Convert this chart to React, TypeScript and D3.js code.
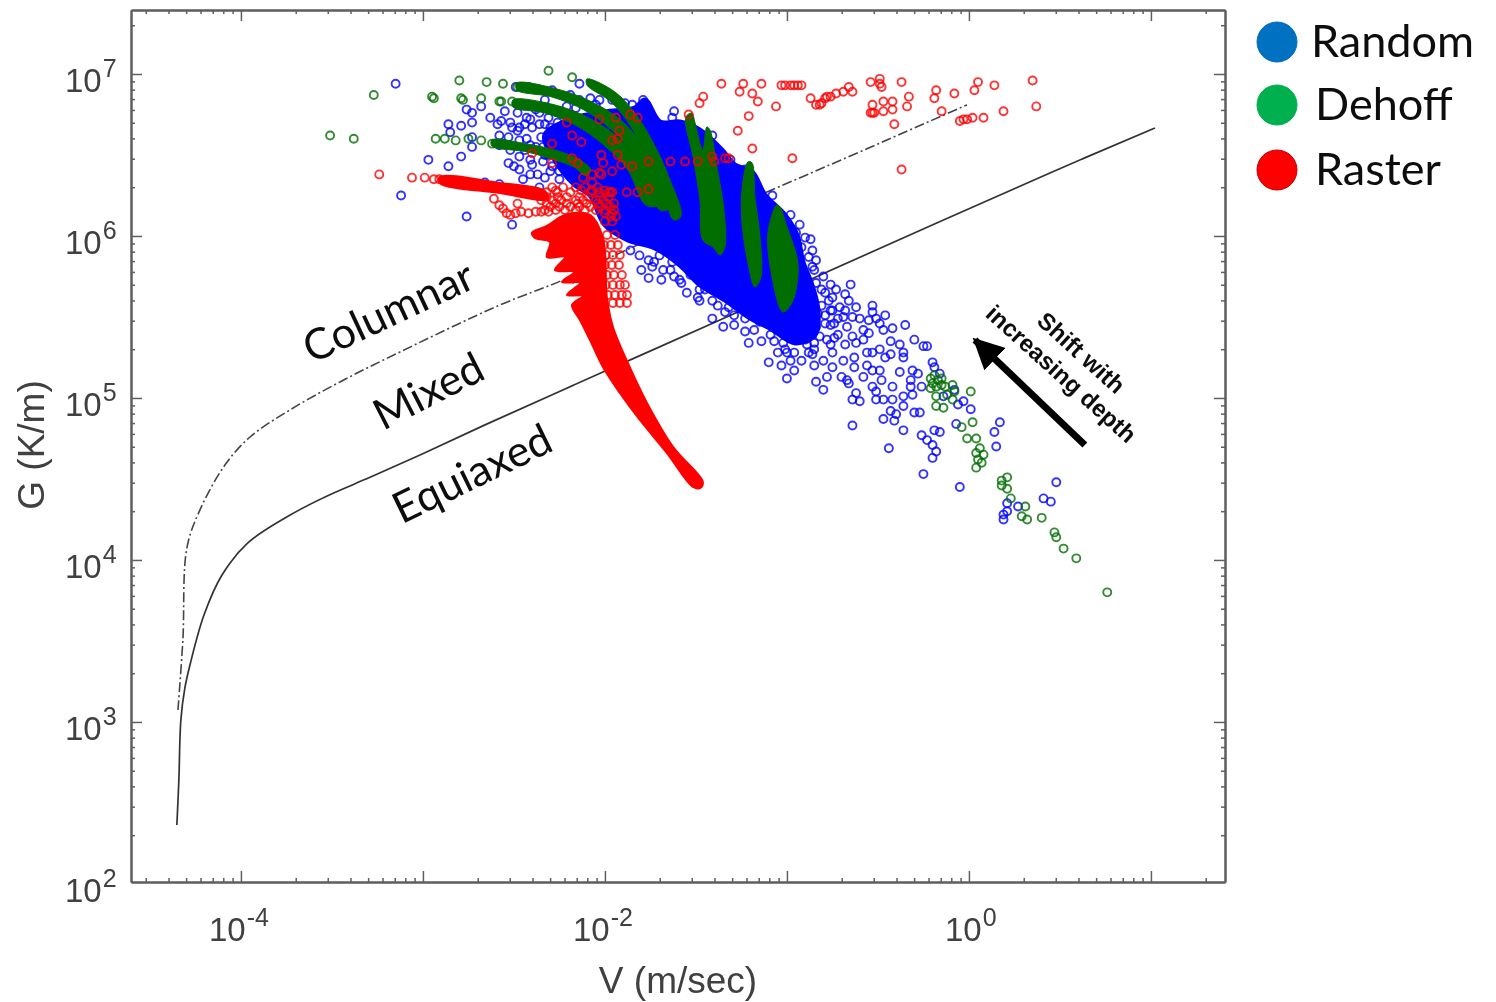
import * as d3 from "d3";
import { useEffect, useRef } from "react";

type Pt = number[];

// every point is [log10 V, log10 G]
const equiaxedLine: Pt[] = [[-4.352,2.364],[-4.341,2.642],[-4.33,3.012],[-4.308,3.21],[-4.28,3.352],[-4.203,3.66],[-4.104,3.907],[-3.962,4.105],[-3.758,4.259],[-3.538,4.389],[-3.291,4.51],[-3.016,4.648],[-2.659,4.834],[-2.011,5.16],[-1.368,5.481],[-0.78,5.778],[0.445,6.389],[1.022,6.667]];
const columnarLine: Pt[] = [[-4.346,3.074],[-4.319,3.506],[-4.297,4.074],[-4.225,4.309],[-4.088,4.586],[-3.95,4.759],[-3.731,4.926],[-3.456,5.099],[-3.126,5.284],[-2.577,5.574],[-2.231,5.728],[-1.846,5.932],[-1.11,6.272],[-0.011,6.809]];

// solid regions, where the markers overlap completely
const randomCore: Pt[] = [[-2.33,6.623],[-2.165,6.728],[-2,6.765],[-1.835,6.79],[-1.78,6.84],[-1.698,6.704],[-1.588,6.704],[-1.478,6.654],[-1.357,6.531],[-1.286,6.438],[-1.192,6.395],[-1.121,6.253],[-1.011,6.13],[-0.945,6.006],[-0.912,5.84],[-0.863,5.698],[-0.83,5.543],[-0.846,5.389],[-0.956,5.34],[-1.093,5.432],[-1.203,5.494],[-1.341,5.605],[-1.478,5.698],[-1.588,5.821],[-1.725,5.926],[-1.874,5.975],[-2,6.068],[-2.082,6.253],[-2.165,6.315],[-2.275,6.469]];
const dehoffBands: Pt[][] = [
  [[-2.099,6.969],[-1.945,6.889],[-1.824,6.741],[-1.72,6.543],[-1.654,6.377],[-1.582,6.123],[-1.621,6.099],[-1.698,6.346],[-1.78,6.519],[-1.874,6.704],[-1.973,6.833],[-2.099,6.932]],
  [[-2.484,6.944],[-2.286,6.914],[-2.082,6.833],[-1.907,6.71],[-1.775,6.531],[-1.687,6.358],[-1.643,6.173],[-1.698,6.16],[-1.753,6.309],[-1.841,6.494],[-1.962,6.654],[-2.115,6.778],[-2.291,6.858],[-2.484,6.901]],
  [[-2.505,6.84],[-2.319,6.821],[-2.121,6.747],[-1.945,6.623],[-1.808,6.444],[-1.72,6.253],[-1.698,6.191],[-1.775,6.191],[-1.874,6.407],[-2,6.556],[-2.154,6.679],[-2.33,6.759],[-2.505,6.796]],
  [[-2.621,6.593],[-2.429,6.568],[-2.258,6.525],[-2.137,6.469],[-2.077,6.407],[-2.104,6.37],[-2.17,6.426],[-2.275,6.469],[-2.429,6.519],[-2.621,6.556]],
  [[-1.555,6.735],[-1.516,6.488],[-1.478,6.222],[-1.462,5.975],[-1.407,5.932],[-1.368,5.883],[-1.341,5.932],[-1.346,6.16],[-1.385,6.426],[-1.423,6.654],[-1.44,6.673],[-1.462,6.531],[-1.505,6.698],[-1.522,6.759]],
  [[-1.214,6.457],[-1.247,6.284],[-1.247,6.08],[-1.214,5.833],[-1.176,5.685],[-1.143,5.747],[-1.148,5.994],[-1.176,6.241],[-1.192,6.451]],
  [[-1.055,6.191],[-1.104,6.019],[-1.082,5.747],[-1.022,5.531],[-0.973,5.586],[-0.94,5.747],[-0.945,5.87],[-1,6.056],[-1.038,6.179]],
];
const rasterBands: Pt[][] = [
  [[-2.401,6.019],[-2.319,6.062],[-2.22,6.13],[-2.082,6.13],[-2.011,5.988],[-1.989,5.617],[-1.956,5.438],[-1.874,5.216],[-1.769,4.969],[-1.626,4.698],[-1.462,4.481],[-1.478,4.444],[-1.516,4.451],[-1.659,4.66],[-1.808,4.864],[-1.918,5.031],[-2.011,5.191],[-2.082,5.358],[-2.137,5.481],[-2.181,5.574],[-2.121,5.63],[-2.209,5.636],[-2.137,5.71],[-2.236,5.716],[-2.17,5.778],[-2.275,5.79],[-2.22,5.87],[-2.319,5.87],[-2.302,5.963],[-2.385,5.988]],
  [[-2.907,6.364],[-2.577,6.327],[-2.33,6.278],[-2.313,6.228],[-2.577,6.265],[-2.907,6.327]],
];

const randomPoints: Pt[] = [
  [-0.35,5.45],[-0.3,5.36],[-0.25,5.32],[-0.23,5.32],[-0.2,5.22],[-0.19,5.19],[-0.16,5.15],[-0.31,5.17],[-0.38,5.16],[-0.28,5.15],[-0.32,5.11],[-0.26,5.07],[-0.32,5.07],[-0.31,5.02],[-0.36,5.01],[-0.42,5.07],[-0.48,5.11],[-0.53,5.17],[-0.58,5.13],[-0.53,5.07],[-0.51,5.04],[-0.42,4.99],[-0.47,4.99],[-0.51,4.99],[-0.6,4.98],[-0.64,4.99],[-0.62,5.03],[-0.66,5.09],[-0.7,5.13],[-0.36,4.95],[-0.43,4.92],[-0.4,4.9],[-0.47,4.87],[-0.41,4.86],[-0.3,4.91],[-0.27,4.91],[-0.64,4.83],[-0.36,4.8],[-0.44,4.69],[-0.26,4.77],[-0.23,4.74],[-0.2,4.71],[-0.18,4.67],[-0.2,4.63],[-0.25,4.53],[-0.19,4.8],[-0.16,4.79],[-0.07,4.84],[-0.06,4.96],[-0.03,4.98],[0.01,4.93],[-0.14,5.01],[-0.08,5.05],[0.17,4.85],[0.14,4.79],[0.15,4.7],[-0.05,4.45],[0.48,4.48],[0.41,4.38],[0.45,4.36],[0.27,4.33],[0.21,4.35],[0.21,4.3],[0.19,4.28],[0.19,4.25],
  [-0.53,5.57],[-0.53,5.53],[-0.51,5.49],[-0.49,5.46],[-0.47,5.42],[-0.42,5.43],[-0.55,5.4],[-0.58,5.42],[-0.64,5.5],[-0.6,5.49],[-0.68,5.64],[-0.66,5.6],[-0.62,5.56],[-0.76,5.7],[-0.75,5.62],[-0.71,5.56],[-0.69,5.5],[-0.74,5.46],[-0.79,5.46],[-0.84,5.44],[-0.67,5.44],[-0.64,5.38],[-0.62,5.34],[-0.58,5.36],[-0.56,5.28],[-0.53,5.28],[-0.49,5.3],[-0.43,5.27],[-0.46,5.25],[-0.43,5.35],[-0.38,5.33],[-0.36,5.28],[-0.36,5.25],[-0.69,5.23],[-0.63,5.25],[-0.75,5.28],[-0.8,5.23],[-0.86,5.27],[-0.92,5.23],[-0.98,5.23],[-1,5.28],[-1.1,5.22],[-1.03,5.2],[-0.96,5.17],[-1,5.12],[-0.84,5.1],[-0.8,5.05],[-0.78,5.13],[-0.75,5.19],[-0.67,5.11],[-0.56,5.2],[-0.49,5.17],[-0.63,5.19],[-1.21,5.34],[-1.14,5.35],[-1.07,5.35],[-1.23,5.41],[-1.35,5.44],[-1.29,5.45],[-1.41,5.49],[-1.02,5.34],[-0.95,5.38],[-0.89,5.33],[-0.85,5.34],[-0.82,5.38],[-0.86,5.6],[-0.79,5.65],[-0.83,5.52],
  [-0.76,5.54],[-0.72,5.39],[-0.78,5.36],[-0.88,5.28],[-0.96,5.28],[-1.05,5.28],[-0.85,5.2],[-0.68,5.33],[-0.55,5.48],[-0.46,5.51],[-0.77,5.6],[-0.73,5.67],[-0.65,5.7],
  [-1.16,6.3],[-1.3,6.36],[-0.95,6.02],[-0.92,5.93],[-0.86,5.91],[-0.88,5.87],[-0.84,5.85],[-0.86,5.81],[-0.93,5.81],[-0.8,5.75],[-0.84,5.71],[-1.8,5.79],[-1.76,5.74],[-1.69,5.73],[-1.74,5.81],[-1.68,5.79],[-1.76,5.85],[-1.55,5.65],[-1.48,5.6],[-1.38,5.57],[-1.49,5.62],[-1.58,5.71],[-1.62,5.75],[-1.32,5.56],[-1.24,5.57],[-1.7,5.88],[-1.64,5.79],[-1.81,5.88],[-1.86,5.91],
  [-3.15,6.94],[-2.14,6.94],[-2.76,6.78],[-2.73,6.76],[-2.68,6.8],[-2.86,6.69],[-2.79,6.68],[-2.73,6.7],[-2.85,6.64],[-2.59,6.69],[-2.57,6.71],[-2.52,6.7],[-2.53,6.61],[-2.73,6.61],[-2.73,6.55],[-2.97,6.47],[-2.79,6.49],[-2.86,6.43],[-3.12,6.25],[-2.76,6.12],[-2.51,6.07],[-2.53,6.45],[-2.5,6.43],[-2.45,6.35],[-2.58,6.32],[-2.66,6.33],[-2.47,6.49],[-2.36,6.3],[-2.34,6.46],[-2.3,6.4],[-2.41,6.47],[-2.4,6.44],[-2.47,6.67],[-2.43,6.6],[-2.4,6.67],[-2.35,6.61],[-2.3,6.67],[-2.26,6.64],[-2.48,6.76],[-2.43,6.73],[-2.36,6.76],[-2.29,6.9],[-2.49,6.92],[-2.42,6.92],[-2.21,6.8],[-2.23,6.64],[-2.21,6.49],[-2.29,6.43],[-2.25,6.35],[-2.18,6.36],[-2.34,6.55],[-2.47,6.59],
  [-2.41,6.72],[-2.38,6.55],[-2.31,6.5],[-2.27,6.56],[-2.44,6.53],[-2.37,6.38],[-2.22,6.41],[-2.14,6.84],[-2.05,6.81],[-1.96,6.84],[-1.89,6.82],[-2.19,6.87],[-2.33,6.84],[-2.55,6.77],[-2.63,6.73],[-2.58,6.62],[-2.48,6.65],[-2.52,6.53],[-2.36,6.69],[-1.77,6.77],[-1.79,6.84],[-1.85,6.81],[-1.73,6.72],[-1.63,6.73],[-1.53,6.69],[-1.62,6.77],
  [-1.73,5.84],[-1.63,5.84],[-1.53,5.76],[-1.45,5.67],[-1.41,5.6],[-1.34,5.53],[-1.29,5.51],[-1.18,5.42],[-1.09,5.39],[-1.01,5.3],[-1.15,5.47],[-1.23,5.49],[-1.48,5.67],[-1.59,5.73],
  [-0.85,5.79],[-0.81,5.67],[-0.81,5.57],[-0.79,5.51],[-0.75,5.54],[-0.76,5.45],[-0.72,5.49],[-0.68,5.54],[-0.93,6.07],[-0.9,5.99],[-0.87,5.98],[-0.98,6.13],[-1.08,6.25],[-1.23,6.41],[-1.31,6.47],[-1.41,6.62],[-0.9,5.42],[-0.96,5.39],[-0.85,5.3],[-0.76,5.33],[-0.74,5.37],[-0.9,5.36],
  [-2.38,6.78],[-2.31,6.73],[-2.25,6.77],[-2.16,6.79],[-2.08,6.85],[-2.03,6.84],[-2.26,6.7],[-2.41,6.56],[-2.33,6.69],[-2.44,6.69],[-2.51,6.67],[-2.58,6.56],[-2.47,6.41],[-2.41,6.38],[-2.33,6.36],[-2.25,6.4],[-2.16,6.44],[-2.22,6.47],[-2.27,6.53],[-2.33,6.5],[-2.19,6.54],[-2.14,6.47],[-2.11,6.36],[-2.08,6.53],[-2.16,6.62],[-2.1,6.72],
];

const dehoffPoints: Pt[] = [
  [-3.51,6.62],[-3.38,6.6],[-3.27,6.87],[-2.95,6.86],[-2.94,6.85],[-2.8,6.96],[-2.79,6.85],[-2.78,6.84],[-2.68,6.85],[-2.65,6.95],[-2.56,6.94],[-2.58,6.83],[-2.57,6.83],[-2.51,6.83],[-2.31,7.02],[-2.18,6.98],[-2.93,6.6],[-2.88,6.6],[-2.82,6.59],[-2.75,6.6],[-2.68,6.59],[-2.62,6.57],[-2.56,6.57],[-2.48,6.92],[-2.45,6.92],
  [0.01,5.04],[0.02,4.85],[-0.04,4.82],[-0.01,4.75],[0.04,4.75],[0.06,4.69],[0.04,4.66],[0.08,4.65],[0.05,4.62],[0.07,4.6],[0.04,4.57],[0.21,4.51],[0.18,4.49],[0.18,4.46],[0.21,4.44],[0.23,4.38],[0.31,4.33],[0.29,4.27],[0.32,4.25],[0.4,4.26],[0.47,4.17],[0.48,4.14],[0.52,4.07],[0.59,4.01],[0.76,3.8],
  [-0.21,5.12],[-0.2,5.09],[-0.17,5.11],[-0.15,5.08],[-0.21,5.06],[-0.13,5.07],[-0.09,5.08],[-0.18,5.01],[-0.18,4.95],[-0.14,4.94],[-0.09,4.99],[-0.08,5.04],[-0.12,5.02],[-0.19,5.14],[-0.15,5.12],[-0.18,5.07],
];

const rasterPoints: Pt[] = [
  [-1.36,6.94],[-1.46,6.86],[-1.48,6.82],[-1.24,6.94],[-1.26,6.89],[-1.19,6.88],[-1.16,6.83],[-1.14,6.94],[-1.06,6.8],[-1.21,6.74],[-1.27,6.65],[-1.19,6.54],[-0.97,6.48],[-1.03,6.93],[-1.01,6.93],[-0.98,6.93],[-0.96,6.93],[-0.94,6.93],[-0.92,6.93],[-0.87,6.85],[-0.84,6.81],[-0.82,6.81],[-0.79,6.85],[-0.76,6.86],[-0.73,6.88],[-0.69,6.89],[-0.66,6.92],[-0.64,6.89],[-0.81,6.82],[-0.78,6.86],[-0.54,6.95],[-0.49,6.97],[-0.48,6.92],[-0.49,6.94],[-0.37,6.95],[-0.53,6.81],[-0.47,6.83],[-0.42,6.83],[-0.53,6.76],[-0.52,6.76],[-0.47,6.77],[-0.42,6.78],[-0.54,6.76],[-0.34,6.8],[-0.33,6.86],[-0.41,6.69],[-0.37,6.41],[-0.18,6.9],[-0.19,6.85],[-0.08,6.88],[0.03,6.9],[0.05,6.95],[0.14,6.93],[0.35,6.96],[0.37,6.8],[0.19,6.77],[0.08,6.73],[0.02,6.73],[-0.01,6.72],[-0.03,6.72],[-0.05,6.71],[-0.15,6.77],
  [-1.64,6.46],[-1.56,6.46],[-1.49,6.46],[-1.41,6.49],[-1.4,6.46],[-1.34,6.48],[-1.32,6.48],[-1.76,6.46],[-1.85,6.43],[-1.76,6.29],[-1.82,6.27],[-1.88,6.27],[-1.96,6.27],[-1.97,6.27],[-1.54,6.75],[-1.86,6.75],[-1.82,6.73],[-1.94,6.73],[-1.92,6.65],[-1.96,6.59],[-1.93,6.6],[-2.02,6.5],[-1.93,6.5],[-2.01,6.45],[-1.96,6.4],[-1.91,6.44],[-2.02,6.38],[-2.21,6.7],[-2.03,6.72],[-2.29,6.57],[-2.18,6.62],[-2.13,6.58],[-2.4,6.51],[-2.29,6.45],[-2.18,6.48],[-2.15,6.45],[-2.12,6.36],[-2.07,6.38],[-2.03,6.39],[-2.07,6.33],
  [-3.24,6.38],[-3.06,6.36],[-2.99,6.36],[-2.94,6.35],[-2.91,6.35],[-2.61,6.23],[-2.58,6.19],[-2.56,6.17],[-2.54,6.14],[-2.52,6.13],[-2.49,6.14],[-2.46,6.15],[-2.42,6.14],[-2.38,6.15],[-2.35,6.15],[-2.31,6.15],[-2.48,6.2],
  [-2.29,6.3],[-2.23,6.3],[-2.16,6.3],[-2.11,6.3],[-2.04,6.3],[-2.32,6.27],[-2.26,6.27],[-2.19,6.27],[-2.08,6.27],[-2.03,6.27],[-1.98,6.27],[-2.35,6.22],[-2.29,6.22],[-2.24,6.22],[-2.16,6.22],[-2.12,6.22],[-2.05,6.22],[-2.01,6.22],[-2.3,6.18],[-2.25,6.18],[-2.19,6.18],[-2.14,6.18],[-2.08,6.18],[-2.03,6.18],[-1.97,6.18],[-2,6.14],[-1.96,6.14],[-2,6.09],[-1.96,6.09],
  [-2.27,6.28],[-2.13,6.28],[-2.07,6.28],[-2,6.28],[-2.32,6.24],[-2.26,6.24],[-2.21,6.24],[-2.14,6.24],[-2.09,6.24],[-2.03,6.24],[-1.98,6.24],[-2.32,6.2],[-2.27,6.2],[-2.21,6.2],[-2.15,6.2],[-2.1,6.2],[-2.04,6.2],[-1.99,6.2],[-1.95,6.2],[-2.33,6.16],[-2.27,6.16],[-2.22,6.16],[-2.16,6.16],[-2.11,6.16],[-2.05,6.16],[-2,6.16],[-1.95,6.16],[-1.97,6.12],[-1.94,6.12],
  [-1.989,6.006],[-1.945,6.006],[-2.005,5.944],[-1.967,5.944],[-1.929,5.944],[-1.995,5.883],[-1.956,5.883],[-1.918,5.883],[-2,5.821],[-1.962,5.821],[-1.923,5.821],[-1.989,5.759],[-1.951,5.759],[-1.907,5.759],[-1.995,5.698],[-1.956,5.698],[-1.918,5.698],[-1.89,5.698],[-1.984,5.636],[-1.945,5.636],[-1.907,5.636],[-1.879,5.636],[-1.956,5.586],[-1.918,5.586],[-1.879,5.586],
];

const majorX = [-4, -2, 0];
const minorDecadesX = [-5, -4, -3, -2, -1, 0, 1];
const majorY = [3, 4, 5, 6, 7];
const minorDecadesY = [2, 3, 4, 5, 6, 7];
const minorSteps = [2, 3, 4, 5, 6, 7, 8, 9];
const tickDecadesY = [2, 3, 4, 5, 6, 7];
const regionLabels = [
  { text: "Columnar", at: [-3.18, 5.51], angle: -25 },
  { text: "Mixed", at: [-2.96, 5.02], angle: -27 },
  { text: "Equiaxed", at: [-2.72, 4.51], angle: -26 },
];
const shiftLabels = [
  { text: "Shift with", at: [0.61, 5.27] },
  { text: "increasing depth", at: [0.5, 5.14] },
];
const shiftArrow: Pt[] = [[0.637, 4.71], [0.033, 5.358]];
const legendNames = ["Random", "Dehoff", "Raster"];
const legendFills = ["#0070c0", "#00b050", "#ff0000"];
const legendRows = [42, 105, 170];
const legendTextX = [1311, 1315, 1315];

export default function App() {
  const ref = useRef<SVGSVGElement>(null);

  useEffect(() => {
    const svg = d3.select(ref.current);
    svg.selectAll("*").remove();

    const x = d3.scaleLog().domain([10 ** -4.604, 10 ** 1.407]).range([131, 1225]);
    const y = d3.scaleLog().domain([10 ** 2.012, 10 ** 7.395]).range([882, 10]);
    const px = (d: Pt) => x(10 ** d[0]);
    const py = (d: Pt) => y(10 ** d[1]);
    const line = d3.line<Pt>().x(px).y(py);
    const smooth = d3.line<Pt>().x(px).y(py).curve(d3.curveCatmullRom);
    const closed = d3.line<Pt>().x(px).y(py).curve(d3.curveCatmullRomClosed);

    const defs = svg.append("defs");
    defs.append("filter").attr("id", "soft")
      .attr("x", "-2%").attr("y", "-2%").attr("width", "104%").attr("height", "104%")
      .append("feGaussianBlur").attr("stdDeviation", 0.7);
    defs.append("marker").attr("id", "head").attr("viewBox", "0 0 10 10")
      .attr("refX", 9).attr("refY", 5).attr("markerWidth", 4.4).attr("markerHeight", 4.4)
      .attr("orient", "auto").attr("markerUnits", "strokeWidth")
      .append("path").attr("d", "M0,0L10,5L0,10Z").attr("fill", "#000");

    svg.append("rect").attr("width", 1496).attr("height", 1002).attr("fill", "#fff");
    const root = svg.append("g").attr("filter", "url(#soft)");

    // axes, all four sides, ticks pointing inward
    const minorX = minorDecadesX.flatMap(e => minorSteps.map(s => s * 10 ** e)).filter(v => v > x.domain()[0] && v < x.domain()[1]);
    const minorY = minorDecadesY.flatMap(e => minorSteps.map(s => s * 10 ** e)).filter(v => v > y.domain()[0] && v < y.domain()[1]);
    const allMajorX = [...minorDecadesX.map(e => 10 ** e)].filter(v => v > x.domain()[0] && v < x.domain()[1]);
    const drawAxis = (axis: any, tr: string) => {
      const g = root.append("g").attr("transform", tr).call(axis);
      g.selectAll("text").remove();
      g.selectAll("path,line").attr("stroke", "#5f5f5f").attr("stroke-width", 1.5);
      g.select("path").attr("stroke-width", 2);
    };
    const top = 10, bottom = 882, left = 131, right = 1225;
    drawAxis(d3.axisBottom(x).tickValues(minorX).tickSize(-4).tickSizeOuter(0), `translate(0,${bottom})`);
    drawAxis(d3.axisBottom(x).tickValues(allMajorX).tickSize(-11).tickSizeOuter(0), `translate(0,${bottom})`);
    drawAxis(d3.axisTop(x).tickValues(minorX).tickSize(-4).tickSizeOuter(0), `translate(0,${top})`);
    drawAxis(d3.axisTop(x).tickValues(allMajorX).tickSize(-11).tickSizeOuter(0), `translate(0,${top})`);
    drawAxis(d3.axisLeft(y).tickValues(minorY).tickSize(-4).tickSizeOuter(0), `translate(${left},0)`);
    drawAxis(d3.axisLeft(y).tickValues(majorY.map(e => 10 ** e)).tickSize(-11).tickSizeOuter(0), `translate(${left},0)`);
    drawAxis(d3.axisRight(y).tickValues(minorY).tickSize(-4).tickSizeOuter(0), `translate(${right},0)`);
    drawAxis(d3.axisRight(y).tickValues(majorY.map(e => 10 ** e)).tickSize(-11).tickSizeOuter(0), `translate(${right},0)`);

    const tickFont = "'Liberation Sans', Arial, sans-serif";
    const power = (e: number, tx: number, ty: number) => {
      const t = root.append("text").attr("x", tx).attr("y", ty)
        .attr("font-family", tickFont).attr("font-size", 33).attr("fill", "#404040");
      t.append("tspan").text("10");
      t.append("tspan").attr("dy", -15).attr("dx", 1).attr("font-size", 25).text(String(e));
    };
    majorX.forEach(e => power(e, x(10 ** e) - (e === 0 ? 24 : 32), 941));
    tickDecadesY.forEach(e => power(e, 65, y(10 ** e) + 18));

    root.append("text").attr("x", 678).attr("y", 993).attr("text-anchor", "middle")
      .attr("font-family", tickFont).attr("font-size", 37).attr("fill", "#404040").text("V (m/sec)");
    root.append("text").attr("transform", "translate(44,445) rotate(-90)").attr("text-anchor", "middle")
      .attr("font-family", tickFont).attr("font-size", 37).attr("fill", "#404040").text("G (K/m)");

    // boundary curves
    root.append("path").attr("d", smooth(equiaxedLine)).attr("fill", "none").attr("stroke", "#333").attr("stroke-width", 1.7);
    root.append("path").attr("d", smooth(columnarLine)).attr("fill", "none").attr("stroke", "#444")
      .attr("stroke-width", 1.6).attr("stroke-dasharray", "10 3 2 3");

    const series = (core: Pt[][], points: Pt[], color: string, opacity: number, spread: number) => {
      const g = root.append("g");
      g.selectAll("path").data(core).enter().append("path").attr("d", d => closed(d)).attr("fill", color)
        .attr("stroke", color).attr("stroke-width", spread).attr("stroke-linejoin", "round");
      g.selectAll("circle").data(points).enter().append("circle")
        .attr("cx", px).attr("cy", py).attr("r", 4)
        .attr("fill", "none").attr("stroke", color).attr("stroke-width", 1.9).attr("opacity", opacity);
    };
    series([randomCore], randomPoints, "#0000ff", 0.8, 5);
    series(dehoffBands, dehoffPoints, "#006e00", 0.8, 1);
    series(rasterBands, rasterPoints, "#ff0000", 0.8, 2);

    // annotations
    regionLabels.forEach(d => {
      root.append("text").attr("transform", `translate(${px(d.at)},${py(d.at)}) rotate(${d.angle})`)
        .attr("text-anchor", "middle").attr("dominant-baseline", "middle")
        .attr("font-family", "Lato, sans-serif").attr("font-size", 43).attr("fill", "#111").text(d.text);
    });
    shiftLabels.forEach(d => {
      root.append("text").attr("transform", `translate(${px(d.at)},${py(d.at)}) rotate(42)`)
        .attr("text-anchor", "middle").attr("dominant-baseline", "middle")
        .attr("font-family", tickFont).attr("font-weight", "bold").attr("font-size", 24).attr("fill", "#111").text(d.text);
    });
    root.append("path").attr("d", line(shiftArrow)).attr("stroke", "#000").attr("stroke-width", 7)
      .attr("fill", "none").attr("marker-end", "url(#head)");

    // legend, it sits outside the axes in the figure
    legendNames.forEach((name, i) => {
      root.append("circle").attr("cx", 1277).attr("cy", legendRows[i]).attr("r", 20).attr("fill", legendFills[i])
        .attr("stroke", i === 2 ? "#c00000" : legendFills[i]).attr("stroke-width", 1);
      root.append("text").attr("x", legendTextX[i]).attr("y", legendRows[i] + 15)
        .attr("font-family", "Lato, sans-serif").attr("font-size", 45).attr("fill", "#111").text(name);
    });
  }, []);

  return <svg ref={ref} width={1496} height={1002} style={{ position: "absolute", left: 0, top: 0, display: "block" }} />;
}
